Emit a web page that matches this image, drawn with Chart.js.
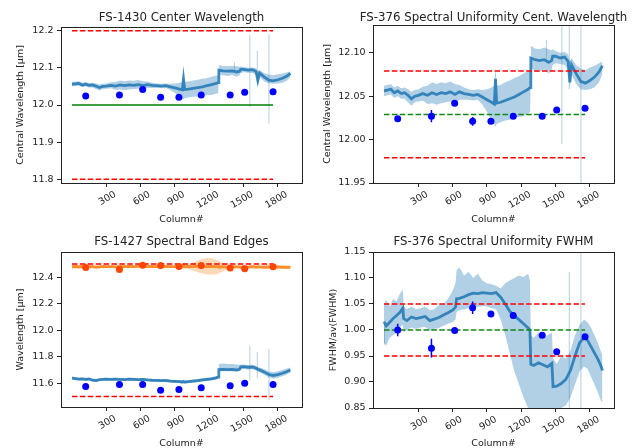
<!DOCTYPE html>
<html>
<head>
<meta charset="utf-8">
<script src="https://cdn.jsdelivr.net/npm/chart.js@4.4.0/dist/chart.umd.min.js"></script>
<style>
  body { margin: 0; background: #fff; }
  #fig { position: relative; width: 639px; height: 448px; }
  .cell { position: absolute; width: 320px; height: 224px; }
</style>
</head>
<body>
<div id="fig">
  <div class="cell" style="left:0;top:0"><canvas id="c1"></canvas></div>
  <div class="cell" style="left:320px;top:0;width:319px"><canvas id="c2"></canvas></div>
  <div class="cell" style="left:0;top:224px"><canvas id="c3"></canvas></div>
  <div class="cell" style="left:320px;top:224px;width:319px"><canvas id="c4"></canvas></div>
</div>
<script>
// columns used for the measured curves (panels 1-3)
const cols = [0,30,60,90,120,150,180,210,240,270,300,340,380,420,460,500,540,580,620,660,700,740,780,820,860,900,940,965,975,985,1020,1060,1100,1140,1180,1220,1260,1278,1284,1320,1360,1400,1440,1465,1475,1500,1540,1580,1610,1625,1640,1680,1720,1760,1800,1840,1880,1910];

// centre wavelength (FS-1430 / FS-376)
const cwLine  = [12.056,12.057,12.058,12.054,12.056,12.053,12.054,12.051,12.047,12.050,12.051,12.053,12.051,12.054,12.052,12.054,12.053,12.055,12.052,12.055,12.053,12.052,12.051,12.052,12.049,12.046,12.043,12.041,12.070,12.042,12.043,12.045,12.047,12.049,12.052,12.055,12.058,12.060,12.094,12.092,12.091,12.092,12.089,12.091,12.096,12.096,12.094,12.095,12.090,12.066,12.086,12.076,12.067,12.065,12.068,12.072,12.078,12.085];
const cwUpper = [12.062,12.063,12.064,12.060,12.062,12.059,12.060,12.058,12.055,12.057,12.058,12.061,12.062,12.066,12.064,12.066,12.065,12.067,12.064,12.063,12.060,12.058,12.057,12.058,12.057,12.058,12.060,12.062,12.084,12.062,12.063,12.066,12.068,12.071,12.073,12.076,12.079,12.080,12.108,12.105,12.104,12.106,12.104,12.103,12.104,12.102,12.100,12.101,12.098,12.090,12.094,12.086,12.082,12.080,12.083,12.085,12.088,12.090];
const cwLower = [12.050,12.051,12.052,12.048,12.050,12.047,12.047,12.043,12.039,12.043,12.044,12.045,12.041,12.042,12.040,12.042,12.043,12.044,12.042,12.046,12.046,12.046,12.045,12.046,12.040,12.032,12.022,12.017,12.015,12.018,12.020,12.022,12.023,12.025,12.026,12.027,12.030,12.032,12.082,12.080,12.078,12.081,12.076,12.080,12.086,12.088,12.087,12.086,12.080,12.060,12.075,12.064,12.058,12.057,12.058,12.060,12.066,12.076];
const cwSpikeCols = [1420,1555,1620,1722];
const cwSpikeLo   = [12.090,11.995,12.058,11.950];
const cwSpikeHi   = [12.115,12.188,12.146,12.190];

// spot measurements
const dotCols = [120,415,618,775,935,1130,1383,1510,1758];
const cwDots = [12.024,12.027,12.042,12.021,12.021,12.027,12.027,12.034,12.036];
const cwErr  = [0.002,0.007,0.003,0.005,0.002,0.003,0.002,0.002,0.002];

// band edges (FS-1427)
const beLoLine  = [11.638,11.634,11.630,11.632,11.628,11.631,11.622,11.620,11.626,11.628,11.630,11.628,11.631,11.629,11.627,11.630,11.628,11.626,11.629,11.624,11.622,11.621,11.619,11.620,11.615,11.613,11.611,11.609,11.612,11.608,11.612,11.616,11.619,11.624,11.628,11.632,11.640,11.645,11.703,11.704,11.702,11.703,11.700,11.705,11.722,11.724,11.720,11.722,11.712,11.705,11.700,11.685,11.665,11.658,11.664,11.675,11.688,11.700];
const beLoUpper = [11.648,11.645,11.641,11.642,11.638,11.640,11.633,11.631,11.636,11.638,11.640,11.638,11.641,11.639,11.637,11.640,11.638,11.636,11.639,11.634,11.632,11.631,11.629,11.630,11.626,11.624,11.622,11.621,11.626,11.620,11.624,11.628,11.631,11.636,11.640,11.644,11.652,11.657,11.745,11.748,11.745,11.744,11.740,11.738,11.740,11.740,11.736,11.738,11.730,11.722,11.718,11.706,11.688,11.682,11.690,11.700,11.710,11.718];
const beLoLower = [11.628,11.624,11.620,11.622,11.618,11.621,11.611,11.609,11.616,11.618,11.620,11.618,11.621,11.619,11.617,11.620,11.618,11.616,11.619,11.614,11.612,11.611,11.609,11.610,11.604,11.602,11.600,11.598,11.600,11.597,11.601,11.605,11.608,11.613,11.617,11.621,11.628,11.633,11.690,11.691,11.689,11.690,11.686,11.690,11.705,11.708,11.703,11.705,11.695,11.688,11.682,11.664,11.642,11.634,11.640,11.652,11.666,11.682];
const beHiLine  = [12.480,12.482,12.478,12.481,12.477,12.480,12.479,12.476,12.478,12.481,12.479,12.480,12.478,12.482,12.479,12.481,12.480,12.483,12.481,12.479,12.482,12.480,12.478,12.481,12.479,12.480,12.477,12.478,12.490,12.479,12.482,12.480,12.483,12.481,12.480,12.482,12.479,12.481,12.478,12.480,12.476,12.479,12.477,12.478,12.475,12.477,12.476,12.479,12.476,12.478,12.477,12.475,12.478,12.476,12.477,12.475,12.476,12.474];
const beHiUpper = [12.495,12.497,12.492,12.494,12.490,12.492,12.490,12.487,12.488,12.490,12.488,12.489,12.487,12.491,12.488,12.490,12.489,12.492,12.490,12.488,12.491,12.489,12.487,12.490,12.488,12.489,12.487,12.490,12.505,12.492,12.495,12.510,12.525,12.538,12.545,12.542,12.532,12.525,12.522,12.505,12.492,12.490,12.488,12.489,12.486,12.488,12.487,12.490,12.487,12.489,12.488,12.486,12.489,12.487,12.488,12.486,12.487,12.485];
const beHiLower = [12.462,12.465,12.462,12.466,12.463,12.466,12.467,12.464,12.466,12.470,12.469,12.470,12.468,12.472,12.469,12.471,12.470,12.473,12.471,12.469,12.472,12.470,12.468,12.471,12.469,12.470,12.467,12.468,12.470,12.468,12.462,12.450,12.438,12.428,12.420,12.418,12.422,12.428,12.430,12.445,12.462,12.467,12.466,12.467,12.464,12.466,12.465,12.467,12.464,12.466,12.465,12.463,12.466,12.464,12.465,12.463,12.464,12.462];
const beSpikeCols = [1555,1620,1722];
const beSpikeLo   = [11.620,11.640,11.470];
const beSpikeHi   = [11.884,11.834,11.859];
const beLoDots = [11.575,11.590,11.590,11.547,11.552,11.565,11.580,11.600,11.590];
const beHiDots = [12.473,12.458,12.490,12.488,12.480,12.488,12.470,12.463,12.478];

// FWHM uniformity (FS-376)
const fwCols  = [0,20,50,80,110,140,165,172,200,240,280,320,360,400,440,480,520,560,600,625,635,660,700,740,780,820,860,900,940,980,1020,1060,1100,1140,1180,1220,1260,1276,1284,1310,1350,1390,1430,1468,1478,1510,1550,1590,1630,1670,1710,1750,1780,1810,1840,1870,1895,1910];
const fwLine  = [1.016,1.008,1.015,1.022,1.028,1.034,1.042,1.022,1.018,1.025,1.022,1.024,1.026,1.018,1.021,1.024,1.029,1.033,1.038,1.044,1.060,1.061,1.064,1.068,1.071,1.070,1.072,1.071,1.070,1.072,1.063,1.050,1.036,1.027,1.020,1.012,1.004,1.000,0.934,0.932,0.937,0.933,0.929,0.936,0.891,0.892,0.897,0.905,0.922,0.950,0.975,0.986,0.980,0.968,0.956,0.944,0.932,0.922];
const fwUpper = [1.050,1.058,1.045,1.060,1.055,1.070,1.078,1.045,1.040,1.045,1.040,1.042,1.045,1.038,1.040,1.048,1.050,1.060,1.075,1.090,1.115,1.120,1.105,1.112,1.100,1.108,1.095,1.090,1.088,1.085,1.080,1.090,1.095,1.100,1.105,1.102,1.108,1.095,0.990,0.985,0.995,0.985,0.990,0.995,0.945,0.935,0.950,0.945,0.960,0.990,1.010,1.020,1.015,1.005,0.990,0.975,0.960,0.950];
const fwLower = [0.975,0.970,0.985,0.990,0.995,1.005,1.010,0.995,1.000,1.005,1.002,1.005,1.006,0.998,1.002,1.004,1.008,1.012,1.015,1.020,1.035,1.038,1.040,1.042,1.045,1.044,1.046,1.045,1.042,1.040,1.020,0.990,0.955,0.920,0.895,0.870,0.850,0.840,0.830,0.830,0.840,0.835,0.845,0.850,0.830,0.835,0.850,0.855,0.870,0.895,0.920,0.930,0.925,0.910,0.895,0.880,0.865,0.860];
const fwSpikeCols = [5,1620,1722];
const fwSpikeLo   = [0.972,0.850,0.850];
const fwSpikeHi   = [1.010,1.112,1.160];
const fwDots = [1.000,0.965,0.999,1.043,1.031,1.028,0.990,0.958,0.987];
const fwErr  = [0.012,0.018,0.006,0.012,0.004,0.006,0.004,0.004,0.005];

// reference levels
const refX = [0,1758];
const xTicks = [300,600,900,1200,1500,1800];

const FONT = 'DejaVu Sans';
const TXT = '#222';
const BLUE_LINE = 'rgba(31,119,180,0.85)';
const BLUE_BAND = 'rgba(31,119,180,0.35)';
const ORANGE_LINE = 'rgba(255,127,14,0.85)';
const ORANGE_BAND = 'rgba(255,127,14,0.3)';

function pts(xs, ys) { return xs.map((x, i) => ({x: x, y: ys[i]})); }
function segs(xs, lo, hi) {
  const out = [];
  xs.forEach((x, i) => { out.push({x: x, y: lo[i]}, {x: x, y: hi[i]}, {x: x, y: null}); });
  return out;
}
function hline(y) { return refX.map(x => ({x: x, y: y})); }

function curve(xs, line, upper, lower, lc, bc, spikes) {
  const ds = [
    {data: pts(xs, upper), borderWidth: 0, pointRadius: 0, fill: '+1', backgroundColor: bc, order: 6},
    {data: pts(xs, lower), borderWidth: 0, pointRadius: 0, fill: false, order: 6},
    {data: pts(xs, line), borderColor: lc, borderWidth: 2.8, pointRadius: 0, fill: false, order: 4}
  ];
  if (spikes) ds.push({data: spikes, borderColor: bc, borderWidth: 1, pointRadius: 0, spanGaps: false, fill: false, order: 5});
  return ds;
}
function ref(y, color, dashed) {
  return {data: hline(y), borderColor: color, borderWidth: 1.5, borderDash: dashed ? [5.5, 2.4] : [], pointRadius: 0, fill: false, order: 2};
}
function dots(ys, color, err) {
  const ds = [{data: pts(dotCols, ys), showLine: false, pointRadius: 3.5, pointBackgroundColor: color, pointBorderWidth: 0, order: 0}];
  if (err) {
    ds.push({data: segs(dotCols, ys.map((v, i) => v - err[i]), ys.map((v, i) => v + err[i])),
      borderColor: color, borderWidth: 1.5, pointRadius: 0, spanGaps: false, fill: false, order: 1});
  }
  return ds;
}

// axes frame + title centred over the plot area, like the original figure
const frame = {
  id: 'frame',
  afterDraw(c, args, o) {
    const a = c.chartArea, x = c.ctx;
    x.save();
    x.strokeStyle = TXT;
    x.lineWidth = 1;
    x.strokeRect(Math.round(a.left) + 0.5, Math.round(a.top) + 0.5, Math.round(a.right - a.left), Math.round(a.bottom - a.top));
    x.fillStyle = TXT;
    x.font = '11.8px "' + FONT + '"';
    x.textAlign = 'center';
    x.textBaseline = 'alphabetic';
    x.fillText(o.text, (a.left + a.right) / 2, o.y);
    x.restore();
  }
};

function makeChart(id, g, title, yTitle, ymin, ymax, yTicks, dec, datasets) {
  return new Chart(id, {
    type: 'line',
    data: {datasets: datasets},
    options: {
      responsive: true,
      maintainAspectRatio: false,
      animation: false,
      events: [],
      layout: {padding: {left: 0, right: g.right, top: g.top, bottom: 0}},
      plugins: {
        legend: {display: false},
        tooltip: {enabled: false},
        title: {display: false},
        frame: {text: title, y: 20.5}
      },
      scales: {
        x: {
          type: 'linear', min: -96, max: 2011,
          afterBuildTicks: s => { s.ticks = xTicks.map(v => ({value: v})); },
          afterFit: s => { s.height = g.xh; },
          ticks: {minRotation: 30, maxRotation: 30, autoSkip: false, labelOffset: 9, padding: 2,
            color: TXT, font: {family: FONT, size: 9.5}, callback: v => String(v)},
          grid: {drawOnChartArea: false, tickLength: 4, color: TXT},
          border: {display: false},
          title: {display: true, text: 'Column#', color: TXT, font: {family: FONT, size: 9.5, lineHeight: 1}, padding: {top: 0, bottom: 0}}
        },
        y: {
          type: 'linear', min: ymin, max: ymax,
          afterBuildTicks: s => { s.ticks = yTicks.map(v => ({value: v})); },
          afterFit: s => { s.width = g.left; },
          ticks: {padding: 3.5, color: TXT, font: {family: FONT, size: 9.5}, callback: v => Number(v).toFixed(dec)},
          grid: {drawOnChartArea: false, tickLength: 4, color: TXT},
          border: {display: false},
          title: {display: true, text: yTitle, color: TXT, font: {family: FONT, size: 9.5, lineHeight: 1}, padding: {top: g.ytp, bottom: 0}}
        }
      }
    },
    plugins: [frame]
  });
}

// panel 1
makeChart('c1', {left: 61, right: 18, top: 27, xh: 41, ytp: 16},
  'FS-1430 Center Wavelength', 'Central Wavelength [μm]', 11.79, 12.21,
  [11.8, 11.9, 12.0, 12.1, 12.2], 1,
  [].concat(
    dots(cwDots, 'blue', cwErr),
    [ref(12.2, 'red', true), ref(11.8, 'red', true), ref(12.0, '#008000', false)],
    curve(cols, cwLine, cwUpper, cwLower, BLUE_LINE, BLUE_BAND, segs(cwSpikeCols, cwSpikeLo, cwSpikeHi))
  ));

// panel 2
makeChart('c2', {left: 53, right: 25, top: 25, xh: 41, ytp: 2.3},
  'FS-376 Spectral Uniformity Cent. Wavelength', 'Central Wavelength [μm]', 11.95, 12.132,
  [11.95, 12.00, 12.05, 12.10], 2,
  [].concat(
    dots(cwDots, 'blue', cwErr),
    [ref(12.079, 'red', true), ref(11.979, 'red', true), ref(12.029, '#118811', true)],
    curve(cols, cwLine, cwUpper, cwLower, BLUE_LINE, BLUE_BAND, segs(cwSpikeCols, cwSpikeLo, cwSpikeHi))
  ));

// panel 3
makeChart('c3', {left: 61, right: 18, top: 28, xh: 41, ytp: 16},
  'FS-1427 Spectral Band Edges', 'Wavelength [μm]', 11.42, 12.59,
  [11.6, 11.8, 12.0, 12.2, 12.4], 1,
  [].concat(
    dots(beHiDots, 'orangered', null),
    dots(beLoDots, 'blue', null),
    [ref(12.5, 'red', true), ref(11.5, 'red', true)],
    curve(cols, beHiLine, beHiUpper, beHiLower, ORANGE_LINE, ORANGE_BAND, null),
    curve(cols, beLoLine, beLoUpper, beLoLower, BLUE_LINE, BLUE_BAND, segs(beSpikeCols, beSpikeLo, beSpikeHi))
  ));

// panel 4
makeChart('c4', {left: 53, right: 25, top: 28, xh: 40, ytp: 8.5},
  'FS-376 Spectral Uniformity FWHM', 'FWHM/av(FWHM)', 0.85, 1.15,
  [0.85, 0.90, 0.95, 1.00, 1.05, 1.10, 1.15], 2,
  [].concat(
    dots(fwDots, 'blue', fwErr),
    [ref(1.05, 'red', true), ref(0.95, 'red', true), ref(1.00, '#118811', true)],
    curve(fwCols, fwLine, fwUpper, fwLower, BLUE_LINE, BLUE_BAND, segs(fwSpikeCols, fwSpikeLo, fwSpikeHi))
  ));
</script>
</body>
</html>
